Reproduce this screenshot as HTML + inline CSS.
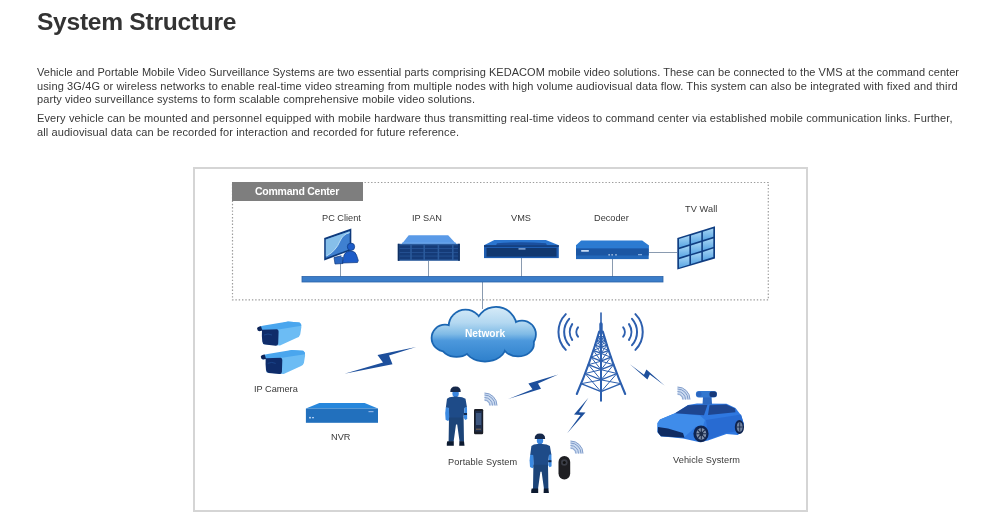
<!DOCTYPE html>
<html><head><meta charset="utf-8"><title>System Structure</title>
<style>
*{margin:0;padding:0;box-sizing:border-box}
html,body{width:1000px;height:530px;background:#fff;overflow:hidden}
body{position:relative;font-family:"Liberation Sans",sans-serif;color:#4a4a4a}
.a{position:absolute;white-space:nowrap}
h1,.p,.lbl,#cch,.a{will-change:transform}
h1{position:absolute;left:36.7px;top:6.8px;font-size:24.6px;letter-spacing:-0.28px;font-weight:bold;color:#333;line-height:30px;white-space:nowrap}
.p{position:absolute;left:37px;font-size:11px;line-height:13.7px;color:#383838;white-space:nowrap}
.lbl{position:absolute;font-size:9.2px;line-height:11px;color:#383838;white-space:nowrap}
#frame{position:absolute;left:193px;top:167px;width:615px;height:345px;border:2px solid #d5d5d5}
#cch{position:absolute;z-index:2;left:232px;top:182px;width:131px;height:19px;background:#7e7e7e;color:#fff;font-weight:bold;font-size:10.5px;line-height:19px;padding-left:23px;letter-spacing:-0.25px}
svg{position:absolute;left:0;top:0}
</style></head><body>
<h1 id="t">System Structure</h1>
<div class="p" id="l1" style="top:65.6px;letter-spacing:0.044px">Vehicle and Portable Mobile Video Surveillance Systems are two essential parts comprising KEDACOM mobile video solutions. These can be connected to the VMS at the command center</div>
<div class="p" id="l2" style="top:79.6px;letter-spacing:0.12px">using 3G/4G or wireless networks to enable real-time video streaming from multiple nodes with high volume audiovisual data flow. This system can also be integrated with fixed and third</div>
<div class="p" id="l3" style="top:93.4px;letter-spacing:0.081px">party video surveillance systems to form scalable comprehensive mobile video solutions.</div>
<div class="p" id="l4" style="top:111.8px;letter-spacing:0.119px">Every vehicle can be mounted and personnel equipped with mobile hardware thus transmitting real-time videos to command center via established mobile communication links. Further,</div>
<div class="p" id="l5" style="top:125.6px;letter-spacing:0.1px">all audiovisual data can be recorded for interaction and recorded for future reference.</div>

<div id="frame"></div>
<div id="cch">Command Center</div>

<div class="lbl" id="pc" style="left:322px;top:212.7px">PC Client</div>
<div class="lbl" id="ips" style="left:412px;top:212.7px">IP SAN</div>
<div class="lbl" id="vms" style="left:511px;top:212.8px">VMS</div>
<div class="lbl" id="dec" style="left:594px;top:212.8px">Decoder</div>
<div class="lbl" id="tvw" style="left:684.5px;top:204.4px;letter-spacing:0.1px">TV Wall</div>
<div class="lbl" id="ipc" style="left:254px;top:383.8px">IP Camera</div>
<div class="lbl" id="nvr" style="left:331px;top:431.9px">NVR</div>
<div class="lbl" id="ps" style="left:448px;top:456.9px;letter-spacing:0.13px">Portable System</div>
<div class="lbl" id="vs" style="left:673px;top:455px;letter-spacing:0.08px">Vehicle Systerm</div>

<svg width="1000" height="530" viewBox="0 0 1000 530">
<defs>
<linearGradient id="scr" x1="0" y1="0" x2="1" y2="1"><stop offset="0" stop-color="#9fd0f2"/><stop offset="1" stop-color="#3f88d2"/></linearGradient>
<linearGradient id="cloudg" gradientUnits="userSpaceOnUse" x1="0" y1="306" x2="0" y2="362"><stop offset="0" stop-color="#d8ecf8"/><stop offset="0.3" stop-color="#b3d8f1"/><stop offset="0.5" stop-color="#80bbe6"/><stop offset="0.62" stop-color="#4c98dc"/><stop offset="1" stop-color="#2d7fcb"/></linearGradient>
<linearGradient id="tvg" x1="0" y1="0" x2="0" y2="1"><stop offset="0" stop-color="#a5d5f5"/><stop offset="1" stop-color="#5aa5e3"/></linearGradient>
</defs>
<rect x="232.5" y="182.5" width="535.8" height="117.4" fill="none" stroke="#9c9c9c" stroke-width="1.2" stroke-dasharray="1.4 1.9"/>
<!-- connection lines -->
<g stroke="#8a9bb0" stroke-width="1" fill="none">
<line x1="340.5" y1="262" x2="340.5" y2="277"/>
<line x1="428.5" y1="261" x2="428.5" y2="277"/>
<line x1="521.5" y1="258" x2="521.5" y2="277"/>
<line x1="612.5" y1="259" x2="612.5" y2="277"/>
<line x1="649" y1="252.5" x2="677" y2="252.5"/>
<line x1="482.5" y1="282" x2="482.5" y2="309"/>
</g>
<rect x="302" y="276.5" width="361" height="5.5" fill="#3b7dc9" stroke="#2a62a8" stroke-width="0.8"/>

<!-- PC client -->
<g>
<path d="M334,257.5 L342.5,255.5 L343,263.5 L335,264 Z" fill="#2a66c0" stroke="#0e3a80" stroke-width="0.7"/>
<polygon points="324.2,237.9 351.3,228.6 351.3,250.2 324.2,260.5" fill="#0e3a7c"/>
<polygon points="325.8,239.4 349.7,231.2 349.7,249.2 325.8,258" fill="#3f80d0"/>
<path d="M325.8,239.4 L349.7,231.2 L349.7,233 Q343,234 340,241 Q336,251 325.8,256.5 Z" fill="#86bfe9"/>
<path d="M326.5,256 Q336,251 340,241 Q343,234.2 349.5,232.6" stroke="#bfe2f8" stroke-width="0.9" fill="none"/>
<circle cx="351" cy="246.8" r="3.7" fill="#1d5cc8" stroke="#0e3a80" stroke-width="0.7"/>
<path d="M342.5,263 L344,255 Q345.5,251 350.5,251 Q355.5,251 356.5,255 L358.3,260.5 L357.5,262.5 Z" fill="#1d5cc8" stroke="#0e3a80" stroke-width="0.7"/>
<circle cx="342.2" cy="256" r="1" fill="#fff"/>
</g>

<!-- IP SAN -->
<g>
<polygon points="408.7,235.2 448.2,235.2 456,243.8 402,243.8" fill="#5a9ae7"/>
<rect x="402" y="242.6" width="54" height="1.4" fill="#6eaaf0"/>
<rect x="397.8" y="243.8" width="62" height="17" fill="#2a5a9c"/>
<g fill="#153b78"><rect x="399.6" y="245.3" width="10.6" height="3"/><rect x="411.8" y="245.3" width="11.6" height="3"/><rect x="425.0" y="245.3" width="12.6" height="3"/><rect x="439.2" y="245.3" width="12.8" height="3"/><rect x="453.6" y="245.3" width="4.6" height="3"/><rect x="399.6" y="249.0" width="10.6" height="3"/><rect x="411.8" y="249.0" width="11.6" height="3"/><rect x="425.0" y="249.0" width="12.6" height="3"/><rect x="439.2" y="249.0" width="12.8" height="3"/><rect x="453.6" y="249.0" width="4.6" height="3"/><rect x="399.6" y="252.7" width="10.6" height="3"/><rect x="411.8" y="252.7" width="11.6" height="3"/><rect x="425.0" y="252.7" width="12.6" height="3"/><rect x="439.2" y="252.7" width="12.8" height="3"/><rect x="453.6" y="252.7" width="4.6" height="3"/><rect x="399.6" y="256.4" width="10.6" height="3"/><rect x="411.8" y="256.4" width="11.6" height="3"/><rect x="425.0" y="256.4" width="12.6" height="3"/><rect x="439.2" y="256.4" width="12.8" height="3"/><rect x="453.6" y="256.4" width="4.6" height="3"/></g>
<rect x="397.8" y="243.8" width="1.6" height="17" fill="#0f2f62"/><rect x="458.2" y="243.8" width="1.6" height="17" fill="#0f2f62"/>
</g>

<!-- VMS -->
<g>
<polygon points="494.3,240 545.9,240 558.8,245.2 484,245.2" fill="#2b76d0"/>
<path d="M497,243.3 Q521,241 546,243.3 L547,245.3 L496,245.3 Z" fill="#1a4f9e"/>
<rect x="484" y="245.2" width="74.8" height="12.9" fill="#1f5db0"/>
<rect x="484" y="245.2" width="74.8" height="1.6" fill="#0f3a78"/>
<rect x="486.5" y="248" width="70" height="8.6" fill="#12386f"/>
<rect x="518.5" y="248.2" width="7" height="1.4" fill="#8fb0e0"/>
</g>

<!-- Decoder -->
<g>
<polygon points="581.2,240.4 642.2,240.4 648.7,245.2 576,245.2" fill="#2b7bd2"/>
<rect x="576" y="245.2" width="72.7" height="13.9" fill="#2368ba"/>
<rect x="576" y="245.2" width="72.7" height="3.3" fill="#2b7bd2"/>
<rect x="576" y="248.5" width="72.7" height="7" fill="#1b56a3"/>
<rect x="581" y="250" width="8" height="1.8" rx="0.8" fill="#c6dbf5"/>
<g fill="#e0ecfa"><rect x="608.6" y="254" width="1" height="1.6"/><rect x="611.6" y="254" width="1" height="1.6"/><rect x="615.5" y="254" width="1" height="1.6"/></g>
<rect x="638" y="254.2" width="4" height="1" fill="#9fc0ea"/>
</g>

<!-- TV wall -->
<g>
<polygon points="677.3,238 715,226.3 715,258.4 677.3,269.6" fill="#103e82"/>
<g fill="url(#tvg)">
<polygon points="679.0,239.1 689.4,235.8 689.4,244.2 679.0,247.5"/>
<polygon points="691.0,235.4 701.3,232.2 701.3,240.6 691.0,243.8"/>
<polygon points="702.9,231.7 713.3,228.4 713.3,236.8 702.9,240.1"/>
<polygon points="679.0,249.2 689.4,245.9 689.4,254.3 679.0,257.6"/>
<polygon points="691.0,245.5 701.3,242.3 701.3,250.7 691.0,253.9"/>
<polygon points="702.9,241.8 713.3,238.5 713.3,246.9 702.9,250.2"/>
<polygon points="679.0,259.3 689.4,256.0 689.4,264.4 679.0,267.7"/>
<polygon points="691.0,255.6 701.3,252.4 701.3,260.8 691.0,264.0"/>
<polygon points="702.9,251.9 713.3,248.6 713.3,257.0 702.9,260.3"/>
</g>
</g>

<!-- Cloud -->
<g>
<g fill="#1b66b2" stroke="#1b66b2" stroke-width="3.6">
<circle cx="465.5" cy="326.5" r="16"/>
<circle cx="496" cy="327.8" r="20"/>
<circle cx="522" cy="334.5" r="13"/>
<circle cx="445" cy="338" r="12.5"/>
<ellipse cx="456.5" cy="345" rx="15" ry="11"/>
<ellipse cx="485" cy="346" rx="20" ry="14.7"/>
<ellipse cx="518" cy="344" rx="15" ry="11.5"/>
</g>
<g fill="url(#cloudg)">
<circle cx="465.5" cy="326.5" r="16"/>
<circle cx="496" cy="327.8" r="20"/>
<circle cx="522" cy="334.5" r="13"/>
<circle cx="445" cy="338" r="12.5"/>
<ellipse cx="456.5" cy="345" rx="15" ry="11"/>
<ellipse cx="485" cy="346" rx="20" ry="14.7"/>
<ellipse cx="518" cy="344" rx="15" ry="11.5"/>
</g>
</g>

<!-- IP cameras -->
<g id="cam1">
<path d="M262,329 L288,321.5 L299.5,322.4 Q301.8,324 301.4,327 L300.2,334.5 Q299.5,337 296.9,337.8 L280,345.5 L263,344 Z" fill="#6cbcf4"/>
<path d="M258,327.8 Q260,326 264,325.5 L288,321.5 L299.5,322.4 Q301.6,323.6 301.4,325.8 L280,329.2 L264,330 Q260,330.5 258.5,331 Z" fill="#4aa6ee"/>
<path d="M262,329.8 L277,329.3 Q278.6,329.6 278.6,331.5 L278.2,343.5 Q277.8,345.9 275.6,345.7 L265,344.6 Q262.6,344.2 262.3,341.5 Q261.6,336 262,329.8 Z" fill="#0f2c6a"/>
<path d="M257.1,328.4 Q257.6,326.4 261,326.2 L262.4,330.6 L259.5,331.2 Q257.2,330.8 257.1,328.4 Z" fill="#0d2458"/>
<path d="M264,335 Q268,333 272,335" stroke="#1d4a90" stroke-width="0.8" fill="none"/>
</g>
<use href="#cam1" transform="translate(3.7,28.4)"/>

<!-- NVR -->
<g>
<polygon points="319.4,403.1 364.6,403.1 378,408.5 305.9,408.5" fill="#2787dc"/>
<rect x="305.9" y="408.5" width="72.1" height="14.3" fill="#2270bd"/>
<circle cx="310" cy="417.7" r="0.9" fill="#cfe3fa"/>
<rect x="312" y="417" width="2" height="1.3" fill="#a9c8ee"/>
<rect x="368.5" y="411" width="5" height="1.2" fill="#8fb3e6"/>
</g>

<!-- lightning bolts -->
<g fill="#1d4f9c">
<polygon points="344.4,373.7 383,362.5 377.5,355 416.1,347.1 389,355.5 392.5,364.2"/>
<polygon points="508.3,399 532.5,389.3 528.4,383.4 558.2,374.4 538,383.5 541,388.8"/>
<polygon points="588.4,397.8 574,414.5 580.5,415 567.2,433.3 585.5,412.5 579,412.3"/>
<polygon points="629.9,364.2 647.4,379.4 649.8,374.5 664.8,385.7 646.4,369.6 644,374.7"/>
</g>

<!-- Tower -->
<g stroke="#2c5fae" fill="none" stroke-linecap="round" stroke-linejoin="round">
<path d="M601,313 L601,326" stroke-width="1.6"/>
<path d="M601,324 L601,333" stroke-width="3.4"/>
<path d="M599.2,331.5 Q590.5,362.0 576.8,394.0 M602.8,331.5 Q611.5,362.0 625.2,394.0" stroke-width="2.1"/>
<path d="M601,331 L601,400.7" stroke-width="2"/>
<path d="M597.9,336.1 L601.0,337.4 L604.1,336.1 M596.6,340.2 L601.0,341.9 L605.4,340.2 M595.1,345.0 L601.0,347.3 L606.9,345.0 M593.4,350.4 L601.0,353.4 L608.6,350.4 M591.1,357.2 L601.0,361.2 L610.9,357.2 M588.4,364.7 L601.0,369.7 L613.6,364.7 M585.1,373.5 L601.0,379.9 L616.9,373.5 M581.1,383.7 L601.0,391.7 L620.9,383.7" stroke-width="1.25"/>
<path d="M597.9,336.1 L601.0,341.9 M601.0,337.4 L596.6,340.2 M604.1,336.1 L601.0,341.9 M601.0,337.4 L605.4,340.2 M596.6,340.2 L601.0,347.3 M601.0,341.9 L595.1,345.0 M605.4,340.2 L601.0,347.3 M601.0,341.9 L606.9,345.0 M595.1,345.0 L601.0,353.4 M601.0,347.3 L593.4,350.4 M606.9,345.0 L601.0,353.4 M601.0,347.3 L608.6,350.4 M593.4,350.4 L601.0,361.2 M601.0,353.4 L591.1,357.2 M608.6,350.4 L601.0,361.2 M601.0,353.4 L610.9,357.2 M591.1,357.2 L601.0,369.7 M601.0,361.2 L588.4,364.7 M610.9,357.2 L601.0,369.7 M601.0,361.2 L613.6,364.7 M588.4,364.7 L601.0,379.9 M601.0,369.7 L585.1,373.5 M613.6,364.7 L601.0,379.9 M601.0,369.7 L616.9,373.5 M585.1,373.5 L601.0,391.7 M601.0,379.9 L581.1,383.7 M616.9,373.5 L601.0,391.7 M601.0,379.9 L620.9,383.7" stroke-width="1"/>
</g>
<!-- tower waves -->
<g stroke="#2d5fae" fill="none" stroke-width="2" stroke-linecap="round">
<path d="M565.8,314.1 A25.5,25.5 0 0 0 565.8,349.9 M635.4,314.1 A25.5,25.5 0 0 1 635.4,349.9 M569.2,318.8 A19.8,19.8 0 0 0 569.2,345.2 M632.0,318.8 A19.8,19.8 0 0 1 632.0,345.2 M572.2,324.1 A14.2,14.2 0 0 0 572.2,339.9 M629.0,324.1 A14.2,14.2 0 0 1 629.0,339.9 M578.0,327.3 A7.6,7.6 0 0 0 578.0,336.7 M623.2,327.3 A7.6,7.6 0 0 1 623.2,336.7"/>
</g>

<!-- persons -->
<g id="person">
<ellipse cx="455.6" cy="393.4" rx="3.2" ry="3.8" fill="#3a86e0"/>
<path d="M450.3,391.9 Q450.1,386.4 455.5,386.4 Q460.9,386.4 460.7,391.9 Z" fill="#16284a"/>
<rect x="454" y="396" width="3.2" height="2.5" fill="#2f72c8"/>
<path d="M447,398.8 Q449,397 453,396.8 L458,396.8 Q462.5,397 465.5,398.8 L467,407.5 L464.6,408 L463.5,418 L449,418 L448.6,408 L445.8,407.8 Z" fill="#1e4b88"/>
<path d="M445.8,407.5 L448.8,407.8 L449.4,419.8 L448,421 L445.6,419.8 L445.2,413 Z" fill="#3b8ae2"/>
<path d="M464.6,407.5 L467,407.3 L467.2,419 L465.2,420 L463.8,418 Z" fill="#3b8ae2"/>
<rect x="463.8" y="413" width="3.2" height="2" fill="#112a50"/>
<path d="M449,417.5 L463.6,417.5 L464,441.8 L459.6,441.8 L457.2,424.5 L456,424.5 L453.6,441.8 L448.6,441.8 Z" fill="#1c4478"/>
<path d="M447.3,441.3 L453.8,441.3 L453.8,445.7 L446.8,445.7 Q446.6,443 447.3,441.3 Z M459.4,441.3 L464,441.3 L464.5,445.7 L459.2,445.7 Z" fill="#0c1a30"/>
</g>
<use href="#person" transform="translate(84.4,47.2)"/>

<!-- phone -->
<rect x="474" y="408.9" width="9.2" height="25.3" rx="1.3" fill="#1c1f28"/>
<rect x="475.2" y="411" width="6.8" height="20.5" fill="#1f2e4c"/>
<rect x="476" y="413" width="5.2" height="12" fill="#4a6690" opacity="0.75"/>
<rect x="476" y="428.5" width="5" height="1.5" fill="#8a7050" opacity="0.6"/>

<!-- body camera -->
<rect x="558.5" y="456.1" width="11.7" height="23.3" rx="5.8" fill="#1e1e22"/>
<circle cx="564.3" cy="462.5" r="3.3" fill="#3a3d46"/>
<circle cx="564.3" cy="462.5" r="1.5" fill="#111"/>

<!-- wifi icons -->
<g id="wifi">
<path d="M484.5,393 A12.5,12.5 0 0 1 497,405.5 L489,405.5 A4.5,4.5 0 0 0 484.5,401 Z" fill="#cddcf1"/>
<path d="M484.5,400 A5.5,5.5 0 0 1 490,405.5 M484.5,397.5 A8,8 0 0 1 492.5,405.5 M484.5,395 A10.5,10.5 0 0 1 495,405.5 M484.5,393 A12.5,12.5 0 0 1 497,405.5" fill="none" stroke="#7593c4" stroke-width="0.9"/>
</g>
<use href="#wifi" transform="translate(86,48)"/>
<use href="#wifi" transform="translate(193,-6)"/>

<!-- car -->
<g>
<path d="M657.5,423 L660,419.5 L675,413.2 L688,405 L697,403.4 L726.5,403.8 L735.5,408.1 L741.2,415.4 L743.8,423.4 L742.6,431.3 L737.8,434.9 L726.5,434 L708,440.5 L700,442.2 L683,438.6 L660.8,436.2 L657.5,432 Z" fill="#2f78e0"/>
<path d="M657.5,423 L660,419.5 L675,413.2 L700,415.5 L705,420 L703,426 L696,426.5 L690,432 L684,437.5 L660.8,436.2 L657.5,432 Z" fill="#3f8cea"/>
<path d="M706,420 L741,414.5 L743.6,423.2 L742.4,430 L735,431.5 L726,433 L708.5,439.5 Z" fill="#286bd2"/>
<path d="M675,413.3 L688,405.3 L707.5,404.8 L704,415.2 Z" fill="#1e4690"/>
<path d="M709.5,405.2 L726,404.4 L735,408.6 L735.5,412.2 L708,415 Z" fill="#1e4690"/>
<path d="M658,427 L668,428.6 L683,433 L684.5,437.8 L661,436.3 L657.8,432.5 Z" fill="#0f2b62"/>
<ellipse cx="701" cy="433.8" rx="7.6" ry="8.4" fill="#0f2450"/>
<ellipse cx="701.3" cy="433.8" rx="5" ry="5.9" fill="#8190aa"/>
<path d="M701.3,428 L701.3,439.6 M696.3,433.8 L706.3,433.8 M697.8,429.8 L704.8,437.8 M704.8,429.8 L697.8,437.8" stroke="#1c2c4c" stroke-width="1.1"/>
<ellipse cx="701.3" cy="433.8" rx="1.8" ry="2.2" fill="#1a2a48"/>
<ellipse cx="739.4" cy="427" rx="4.6" ry="7" fill="#0f2450"/>
<ellipse cx="739.7" cy="427" rx="2.9" ry="4.7" fill="#72839f"/>
<path d="M739.7,422.5 L739.7,431.5 M737,427 L742.4,427" stroke="#1c2c4c" stroke-width="0.9"/>
<path d="M703,396.5 L711.5,396.5 L712,404.5 L702.5,404.5 Z" fill="#2c68c0"/>
<rect x="695.9" y="391.1" width="21" height="6.5" rx="3" fill="#3277cf"/>
<rect x="709.5" y="391.6" width="7.2" height="5.5" rx="2" fill="#17397a"/>
<rect x="696.5" y="391.8" width="5" height="5" rx="2" fill="#2a66c0"/>
</g>
</svg>
<div class="a" id="net" style="left:465px;top:328px;font-size:10.2px;font-weight:bold;color:#fff;line-height:12px">Network</div>
</body></html>
